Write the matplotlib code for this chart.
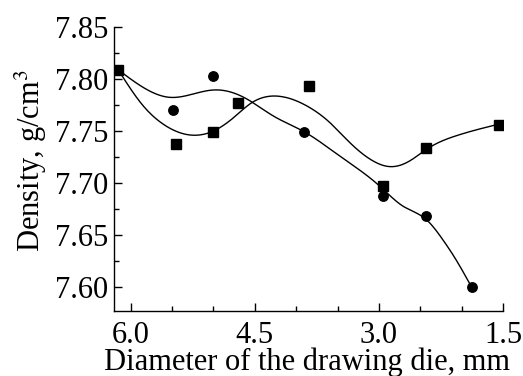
import numpy as np
import matplotlib
matplotlib.use("Agg")
import matplotlib.pyplot as plt
from matplotlib.ticker import MultipleLocator

# measured data
sq_x = [6.15, 5.45, 5.0, 4.7, 3.85, 2.95, 2.43, 1.55]
sq_y = [7.809, 7.738, 7.749, 7.777, 7.793, 7.697, 7.734, 7.756]
ci_x = [6.15, 5.49, 5.0, 3.9, 2.95, 2.43, 1.88]
ci_y = [7.809, 7.770, 7.803, 7.749, 7.688, 7.668, 7.600]

# fitted curves
sq_fit_x = [6.15, 5.848, 5.607, 5.245, 5.0, 4.72, 4.56, 4.2, 3.876, 3.595,
            3.353, 3.07, 2.87, 2.63, 2.41, 2.07, 1.55]
sq_fit_y = [7.809, 7.7743, 7.7567, 7.746, 7.750, 7.7653, 7.776, 7.7834, 7.7744,
            7.7583, 7.739, 7.7212, 7.7158, 7.7212, 7.7332, 7.7454, 7.7567]
ci_fit_x = [6.15, 5.848, 5.525, 5.0, 4.72, 4.56, 4.28, 3.896, 3.474, 2.99,
            2.71, 2.43, 2.23, 2.07, 1.885]
ci_fit_y = [7.809, 7.792, 7.7824, 7.7895, 7.7856, 7.7792, 7.7647, 7.749, 7.726,
            7.697, 7.6778, 7.665, 7.6457, 7.6264, 7.6006]

x_ticks = [6.0, 4.5, 3.0, 1.5]
y_ticks = [7.60, 7.65, 7.70, 7.75, 7.80, 7.85]


def natural_spline(x, y, n=400):
    x = np.asarray(x, float)
    y = np.asarray(y, float)
    order = np.argsort(x)
    x, y = x[order], y[order]
    m = len(x)
    h = np.diff(x)
    A = np.zeros((m, m))
    b = np.zeros(m)
    A[0, 0] = A[-1, -1] = 1.0
    for i in range(1, m - 1):
        A[i, i - 1] = h[i - 1]
        A[i, i] = 2 * (h[i - 1] + h[i])
        A[i, i + 1] = h[i]
        b[i] = 3 * ((y[i + 1] - y[i]) / h[i] - (y[i] - y[i - 1]) / h[i - 1])
    c = np.linalg.solve(A, b)
    bb = (y[1:] - y[:-1]) / h - h * (2 * c[:-1] + c[1:]) / 3
    d = (c[1:] - c[:-1]) / (3 * h)
    xs = np.linspace(x[0], x[-1], n)
    idx = np.clip(np.searchsorted(x, xs) - 1, 0, m - 2)
    dx = xs - x[idx]
    ys = y[idx] + bb[idx] * dx + c[idx] * dx ** 2 + d[idx] * dx ** 3
    return xs, ys


plt.rcParams['font.family'] = ['Liberation Serif', 'DejaVu Serif']
plt.rcParams['mathtext.fontset'] = 'stix'

fig = plt.figure(figsize=(5.23, 3.76), dpi=100)
ax = fig.add_axes([0.218, 0.173, 0.744, 0.755])

xs, ys = natural_spline(sq_fit_x, sq_fit_y)
ax.plot(xs, ys, color='black', lw=1.0)
xs, ys = natural_spline(ci_fit_x, ci_fit_y)
ax.plot(xs, ys, color='black', lw=1.0)

ax.plot(sq_x, sq_y, 's', color='black', ms=6.5, ls='none')
ax.plot(ci_x, ci_y, 'o', color='black', ms=6.8, ls='none')

ax.set_xlim(6.2, 1.5)
ax.set_ylim(7.577, 7.85)
ax.set_xticks(x_ticks)
ax.set_xticklabels([f"{v:.1f}" for v in x_ticks])
ax.set_yticks(y_ticks)
ax.set_yticklabels([f"{v:.2f}" for v in y_ticks])
ax.xaxis.set_minor_locator(MultipleLocator(0.5))
ax.yaxis.set_minor_locator(MultipleLocator(0.025))

for s in ['top', 'right']:
    ax.spines[s].set_visible(False)
for s in ['left', 'bottom']:
    ax.spines[s].set_linewidth(1.0)

ax.tick_params(which='both', direction='in', labelsize=22, width=1.0)
ax.tick_params(axis='x', which='major', pad=7)
ax.tick_params(axis='y', which='major', pad=4)
ax.tick_params(which='major', length=6)
ax.tick_params(which='minor', length=3.5)

ax.set_xlabel("Diameter of the drawing die, mm", fontsize=22)
ax.xaxis.set_label_coords(0.495, -0.128)
ax.set_ylabel("Density, g/cm$^3$", fontsize=22)
ax.yaxis.set_label_coords(-0.168, 0.53)

fig.savefig("out.png", dpi=100)
